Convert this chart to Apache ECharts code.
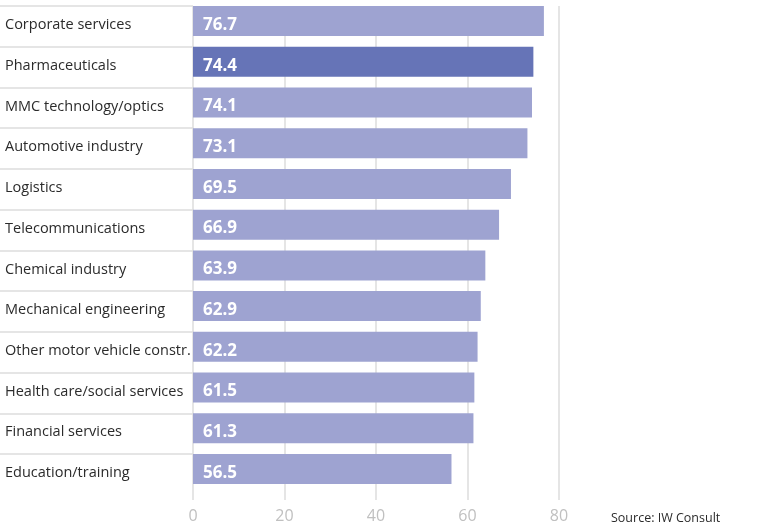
<!DOCTYPE html>
<html>
<head>
<meta charset="utf-8">
<script src="https://cdn.jsdelivr.net/npm/echarts@6/dist/echarts.min.js"></script>
<style>
  html, body { margin: 0; padding: 0; background: #fff; }
  #chart { width: 777px; height: 528px; }
</style>
</head>
<body>
<div id="chart"></div>
<script>
// Industry scores, top to bottom
const categories = [
  'Corporate services',
  'Pharmaceuticals',
  'MMC technology/optics',
  'Automotive industry',
  'Logistics',
  'Telecommunications',
  'Chemical industry',
  'Mechanical engineering',
  'Other motor vehicle constr.',
  'Health care/social services',
  'Financial services',
  'Education/training'
];
const values = [76.7, 74.4, 74.1, 73.1, 69.5, 66.9, 63.9, 62.9, 62.2, 61.5, 61.3, 56.5];
const highlighted = 'Pharmaceuticals';
const axisMin = 0;
const axisMax = 80;
const axisStep = 20;
const sourceNote = 'Source: IW Consult';

// layout
const FONT = 'Open Sans';
const rowPitch = 40.73;
const barHeight = 30;
const plotLeft = 193;
const plotWidth = 366;
const plotTop = 6;
const plotBottom = 500;
const barColor = '#9ea3d1';
const highlightColor = '#6674b7';
const lineColor = '#dcdcdc';

const chart = echarts.init(document.getElementById('chart'), null, { renderer: 'canvas' });

const barData = categories.map((name, i) => ({
  value: values[i],
  itemStyle: { color: name === highlighted ? highlightColor : barColor }
}));

chart.setOption({
  animation: false,
  backgroundColor: '#fff',
  grid: [
    // bars: each row band has the bar flush with its top separator
    {
      left: plotLeft, width: plotWidth,
      top: plotTop - (rowPitch - barHeight) / 2,
      height: rowPitch * categories.length
    },
    // vertical gridlines + value axis labels
    { left: plotLeft, width: plotWidth, top: plotTop, height: plotBottom - plotTop },
    // row separators under the category labels
    { left: 0, width: plotLeft, top: plotTop, height: rowPitch * (categories.length - 1) }
  ],
  xAxis: [
    {
      gridIndex: 0, type: 'value', min: axisMin, max: axisMax, interval: axisStep,
      show: false
    },
    {
      gridIndex: 1, type: 'value', min: axisMin, max: axisMax, interval: axisStep,
      axisLine: { show: false },
      axisTick: { show: false },
      splitLine: { show: true, lineStyle: { color: lineColor, width: 1.5 } },
      axisLabel: { color: '#c0c0c0', fontFamily: FONT, fontSize: 16, margin: 8 }
    },
    { gridIndex: 2, type: 'value', show: false }
  ],
  yAxis: [
    {
      gridIndex: 0, type: 'category', data: categories, inverse: true,
      axisLine: { show: false },
      axisTick: { show: false },
      splitLine: { show: false },
      axisLabel: {
        align: 'left', margin: plotLeft - 5,
        overflow: 'none',
        verticalAlign: 'top', lineHeight: 8,
        color: '#2b2b2b', fontFamily: FONT, fontSize: 14.5
      }
    },
    { gridIndex: 1, type: 'category', data: categories, show: false },
    {
      gridIndex: 2, type: 'category', data: categories.slice(0, -1), inverse: true,
      axisLine: { show: false },
      axisTick: { show: false },
      axisLabel: { show: false },
      splitLine: { show: true, lineStyle: { color: lineColor, width: 1.5 } }
    }
  ],
  series: [
    {
      type: 'bar',
      xAxisIndex: 0, yAxisIndex: 0,
      data: barData,
      barWidth: barHeight,
      z: 3,
      label: {
        show: true,
        position: 'insideLeft',
        distance: 10,
        offset: [0, 4],
        formatter: p => p.value.toFixed(1),
        color: '#fff',
        fontFamily: FONT,
        fontWeight: 'bold',
        fontSize: 17
      }
    }
  ],
  graphic: [
    {
      type: 'text',
      left: 611, top: 512,
      style: { text: sourceNote, fill: '#2b2b2b', font: '12.5px "' + FONT + '"' }
    }
  ]
});
</script>
</body>
</html>
